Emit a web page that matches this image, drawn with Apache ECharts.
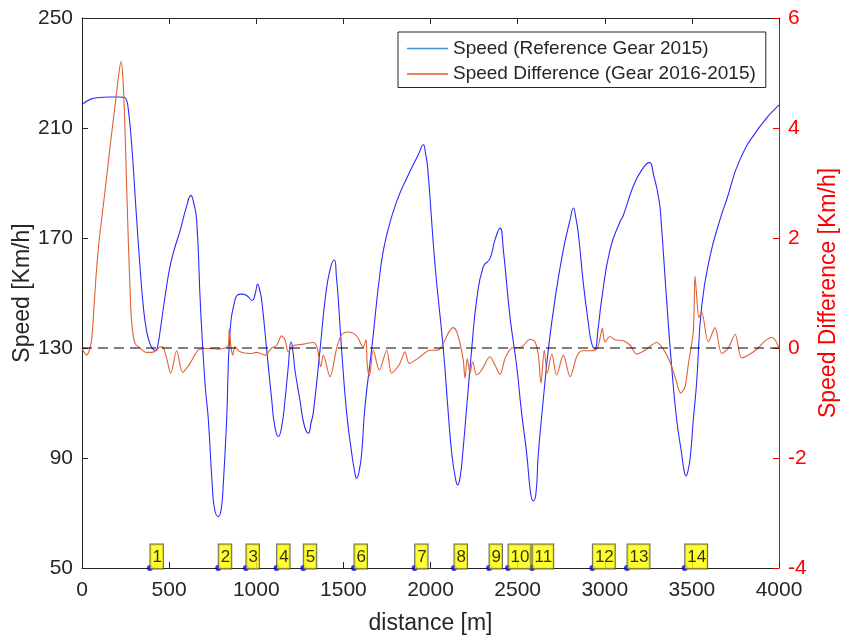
<!DOCTYPE html>
<html><head><meta charset="utf-8">
<script src="https://cdn.jsdelivr.net/npm/echarts@6/dist/echarts.min.js"></script>
<style>html,body{margin:0;padding:0;background:#fff}#c{width:843px;height:635px}</style>
</head><body><div id="c"></div>
<script>
// ---- data ----
const speedDist = [0,50,100,150,200,240,255,266,280,294,304,314,330,352,370,390,410,423,435,448,475,505,535,562,600,625,640,658,680,706,725,748,762,782,798,810,830,849,878,900,916,945,977,995,1008,1020,1031,1060,1089,1105,1127,1145,1165,1182,1200,1212,1222,1251,1275,1299,1315,1327,1366,1395,1423,1448,1460,1471,1490,1519,1548,1565,1576,1590,1605,1624,1662,1716,1749,1806,1873,1930,1959,1972,1984,2026,2074,2102,2122,2142,2156,2170,2185,2208,2236,2265,2303,2341,2370,2399,2418,2456,2495,2523,2552,2575,2590,2605,2619,2647,2676,2714,2762,2801,2820,2835,2848,2877,2906,2925,2944,2960,2982,3030,3088,3105,3163,3210,3256,3280,3311,3323,3355,3384,3413,3441,3455,3466,3480,3493,3508,3527,3556,3604,3661,3700,3776,3891,4000];
const speedVal = [218.5,220.5,221.1,221.3,221.3,221.2,220.3,216.6,208,196,186,176.6,162,145,136.5,131.5,129.4,129.1,131,136,148,159.6,167,172.4,181.5,185.5,183,176.6,145,117,104,79.6,71,68.7,71,79.6,103.8,135.4,147.5,149.5,149.6,149.1,147.3,150,153.3,151,147.5,129.3,111,102,97.8,101,111,122,132.3,128,122,111,102,99,103,106.3,129.3,147.5,158.4,162,156,147.5,129.3,106.3,91.7,85,82.6,85,91.7,108.7,129.3,160.2,171.2,183.3,193,200.3,203.9,200.5,195.4,160.2,129.3,106.3,91.7,83,80.2,83,91.7,108.7,129.3,147.5,159.6,162.5,169.3,173.6,165.7,141.4,123.2,106.3,91.7,77,74.4,77,91.7,111,129.3,147.5,165.7,176.6,180.9,177,171.8,153.6,139,131.7,129.7,136,147.5,165.7,176,178,188.7,194.5,197.5,193,184,176.6,147.5,123.2,103.8,91.7,85.5,83.5,86,91.7,103.8,117.2,145,163.3,176.6,184,198.5,210.6,218.4];

const diffDist = [0,26,46,57,70,84,100,113,132,161,189,210,224,233,241,253,262,273,285,304,333,371,400,429,448,467,486,509,543,578,620,667,716,782,821,840,845,855,865,878,907,964,1003,1050,1089,1117,1146,1165,1184,1213,1270,1327,1350,1370,1385,1423,1462,1490,1528,1576,1614,1630,1637,1649,1672,1706,1749,1777,1821,1854,1878,1940,1997,2036,2064,2102,2131,2150,2169,2188,2198,2211,2227,2242,2265,2294,2341,2370,2399,2428,2466,2523,2571,2600,2619,2634,2653,2670,2696,2724,2762,2801,2839,2868,2915,2954,2973,2986,3001,3030,3059,3106,3145,3183,3231,3298,3336,3374,3403,3436,3461,3479,3508,3518,3528,3540,3556,3594,3633,3671,3709,3748,3786,3834,3881,3920,3958,3977,4000];
const diffVal = [0,-0.13,0,0.2,0.8,1.45,2.0,2.35,2.85,3.66,4.39,4.95,5.21,5.0,4.51,3.3,2.33,1.3,0.48,0.085,0,-0.08,-0.08,-0.04,0.02,0,-0.19,-0.46,-0.05,-0.44,-0.28,-0.04,-0.01,-0.02,0,0.05,0.35,0.02,-0.13,0.02,-0.07,-0.1,-0.08,-0.13,0,0.05,0.22,0.15,-0.07,0.04,0.07,0.1,0,-0.34,-0.13,-0.52,0,0.24,0.29,0.22,0.02,0.15,-0.31,-0.51,-0.04,-0.4,-0.04,-0.46,-0.3,-0.07,-0.28,-0.16,-0.04,-0.04,0.02,0.27,0.37,0.3,0.09,-0.22,-0.55,-0.19,-0.46,-0.25,-0.49,-0.4,-0.16,-0.31,-0.48,-0.19,0,0.02,0.16,0.11,-0.13,-0.64,-0.04,-0.46,-0.11,-0.49,-0.13,-0.52,-0.16,-0.05,-0.05,-0.02,0.18,0.36,0.11,0.21,0.15,0.13,0.05,-0.11,-0.04,0.1,-0.02,-0.25,-0.52,-0.82,-0.7,-0.31,0.3,1.31,0.93,0.55,0.66,0.11,0.37,-0.1,0,0.25,-0.18,-0.11,0,0.13,0.19,0.15,0];

const refDist = [0, 4000];
const refSpeed = [130, 130];

const cornerDist = [390,782,941,1117,1270,1561,1909,2135,2336,2445,2583,2929,3128,3459];
const cornerLabels = ['1','2','3','4','5','6','7','8','9','10','11','12','13','14'];
const cornerY = 50;

const seriesNames = ['Speed (Reference Gear 2015)', 'Speed Difference (Gear 2016-2015)'];

// ---- chart ----
const FONT = '"Liberation Sans", Arial, Helvetica, sans-serif';
const TXT = '#262626';
const zip = (a, b) => a.map((v, i) => [v, b[i]]);
const plain = v => String(v);

const chart = echarts.init(document.getElementById('c'), null, {renderer: 'canvas'});
chart.setOption({
  animation: false,
  backgroundColor: '#fff',
  grid: {left: 82, right: 64, top: 18, bottom: 67, containLabel: false, outerBoundsMode: 'none'},
  xAxis: [{
    type: 'value', min: 0, max: 4000, interval: 500, position: 'bottom',
    axisLine: {onZero: false, lineStyle: {color: TXT, width: 1}},
    axisTick: {inside: true, length: 6, lineStyle: {color: TXT}},
    axisLabel: {fontSize: 21, color: TXT, fontFamily: FONT, margin: 12, formatter: plain},
    splitLine: {show: false},
    name: 'distance [m]', nameLocation: 'middle', nameGap: 44,
    nameTextStyle: {fontSize: 23, color: TXT, fontFamily: FONT}
  }, {
    type: 'value', min: 0, max: 4000, interval: 500, position: 'top',
    axisLine: {onZero: false, lineStyle: {color: TXT, width: 1}},
    axisTick: {inside: true, length: 6, lineStyle: {color: TXT}},
    axisLabel: {show: false}, splitLine: {show: false}
  }],
  yAxis: [{
    type: 'value', min: 50, max: 250, interval: 40, position: 'left',
    axisLine: {show: true, onZero: false, lineStyle: {color: TXT, width: 1}},
    axisTick: {show: true, inside: true, length: 6, lineStyle: {color: TXT}},
    axisLabel: {fontSize: 21, color: TXT, fontFamily: FONT, margin: 9, formatter: plain},
    splitLine: {show: false},
    name: 'Speed [Km/h]', nameLocation: 'middle', nameGap: 48, nameRotate: 90, nameMoveOverlap: false,
    nameTextStyle: {fontSize: 23, color: TXT, fontFamily: FONT}
  }, {
    type: 'value', min: -4, max: 6, interval: 2, position: 'right',
    axisLine: {show: true, onZero: false, lineStyle: {color: '#ff0000', width: 1}},
    axisTick: {show: true, inside: true, length: 6, lineStyle: {color: '#ff0000'}},
    axisLabel: {fontSize: 21, color: '#ff0000', fontFamily: FONT, margin: 9, formatter: plain},
    splitLine: {show: false},
    name: 'Speed Difference [Km/h]', nameLocation: 'middle', nameGap: 38, nameRotate: 90,
    nameTextStyle: {fontSize: 23, color: '#ff0000', fontFamily: FONT}
  }],
  legend: {
    show: true, orient: 'vertical', left: 398, top: 32,
    itemWidth: 41, itemHeight: 1.5, itemGap: 4.5,
    padding: [6, 10, 3, 9],
    borderColor: TXT, borderWidth: 1, backgroundColor: '#fff',
    textStyle: {fontSize: 19, color: TXT, fontFamily: FONT, lineHeight: 21},
    selectedMode: false,
    data: [
      {name: seriesNames[0], icon: 'rect', itemStyle: {color: '#3d95d8', borderWidth: 0}},
      {name: seriesNames[1], icon: 'rect', itemStyle: {color: '#e05a2a', borderWidth: 0}}
    ]
  },
  series: [{
    name: seriesNames[0], type: 'line', xAxisIndex: 0, yAxisIndex: 0,
    data: zip(speedDist, speedVal), symbol: 'none', smooth: 0.5,
    lineStyle: {color: '#2a2aff', width: 1.1}, itemStyle: {color: '#2a2aff'}, z: 2
  }, {
    name: seriesNames[1], type: 'line', xAxisIndex: 0, yAxisIndex: 1,
    data: zip(diffDist, diffVal), symbol: 'none', smooth: 0.3,
    lineStyle: {color: '#de6234', width: 1.1}, itemStyle: {color: '#de6234'}, z: 3
  }, {
    name: 'ref', type: 'line', xAxisIndex: 0, yAxisIndex: 0,
    data: zip(refDist, refSpeed), symbol: 'none', silent: true,
    lineStyle: {color: '#000', width: 1, type: [10, 6]}, z: 4
  }, {
    name: 'corners', type: 'scatter', xAxisIndex: 0, yAxisIndex: 0, clip: false,
    data: cornerDist.map((d, i) => ({value: [d, cornerY], label: {formatter: cornerLabels[i]}})),
    symbol: 'circle', symbolSize: 6, itemStyle: {color: '#0000ff'}, z: 5,
    label: {
      show: true, position: [3.5, -20.5], align: 'left', verticalAlign: 'top',
      fontSize: 17, color: '#000', fontFamily: FONT, lineHeight: 20,
      backgroundColor: '#ffff00', borderColor: '#444', borderWidth: 1,
      padding: [3, 1, 1, 2]
    }
  }]
});
</script></body></html>
